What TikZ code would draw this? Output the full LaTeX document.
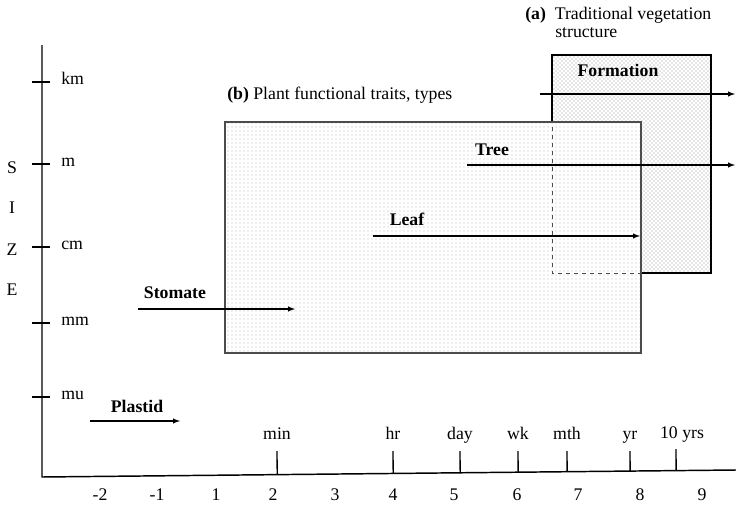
\documentclass[tikz,border=0pt]{standalone}
\usepackage{fontspec}
\setmainfont{Liberation Serif}
\usetikzlibrary{patterns,calc}
\tikzset{>=latex}
\tikzset{
  axis/.style={line width=1.1pt},
  tick/.style={line width=1pt},
  lbl/.style={font=\fontsize{13.3}{13.5}\selectfont, inner sep=0pt},
  blbl/.style={font=\fontsize{13.3}{13.5}\selectfont\bfseries, inner sep=0pt},
  flow/.style={->, line width=0.8pt},
}

\begin{document}
\begin{tikzpicture}[x=0.75pt,y=-0.75pt]
  \useasboundingbox (0,0) rectangle (736,507);

  % Corners
  \coordinate (a-nw) at (552,55);
  \coordinate (a-se) at (711,273);
  \coordinate (b-nw) at (225,122);
  \coordinate (b-se) at (641,353);

  % Boxes
  \draw[line width=0.9pt, pattern=crosshatch dots, pattern color=gray!85] (a-nw) rectangle (a-se);
  \fill[white] (b-nw) rectangle (b-se);
  \draw[line width=0.9pt, draw=gray!60!black, pattern=dots, pattern color=gray!55] (b-nw) rectangle (b-se);
  \begin{scope}
    \clip (b-nw) rectangle (b-se);
    \draw[dashed, draw=gray!60!black, line width=0.6pt] (a-nw) rectangle (a-se);
  \end{scope}

  % Box titles
  \node[lbl, anchor=base west] (atitle) at (525,19) {\textbf{(a)}\ \ Traditional vegetation};
  \node[lbl, anchor=base west] (atitle2) at (555,37) {structure};
  \node[lbl, anchor=base west] (btitle) at (227,99) {\textbf{(b)} Plant functional traits, types};

  % Axes
  \coordinate (origin) at (42,477);
  \coordinate (ytop)   at (42,45);
  \coordinate (xend)   at (736,470);
  \draw[axis] (ytop) -- (origin) -- (xend);

  % Size ticks
  \foreach \y/\name/\txt in {82/km/km, 164/m/m, 247/cm/cm, 323/mm/mm, 397/mu/mu} {
    \draw[tick] (32,\y) -- (50,\y);
    \node[lbl, anchor=base west] (size-\name) at (61,\y+2) {\txt};
  }
  \node[lbl, anchor=base] (s) at (12,173) {S};
  \node[lbl, anchor=base] (i) at (12,213) {I};
  \node[lbl, anchor=base] (z) at (12,255) {Z};
  \node[lbl, anchor=base] (e) at (12,295) {E};

  % Time ticks
  \foreach \x/\name/\txt in {277/min/min, 393/hr/hr, 460/day/day, 518/wk/wk, 567/mth/mth, 630/yr/yr} {
    \coordinate (t-\name) at (\x,451);
    \draw[tick] (t-\name) -- ($(origin)!(t-\name)!(xend)$);
    \node[lbl, anchor=base] (time-\name) at (\x,439) {\txt};
  }
  \coordinate (t-dec) at (676,449);
  \draw[tick] (t-dec) -- ($(origin)!(t-dec)!(xend)$);
  \node[lbl, anchor=base] (time-dec) at (682,438) {10 yrs};

  % Log numbers
  \foreach \x/\txt in {100/-2, 157/-1, 216/1, 273/2, 335/3, 393/4, 454/5, 517/6, 578/7, 640/8, 702/9} {
    \node[lbl, anchor=base] (num\txt) at (\x,500) {\txt};
  }

  % Levels
  \node[blbl, anchor=base] (formation) at (618,76) {Formation};
  \coordinate (formation-s) at (540,94);
  \coordinate (formation-e) at (735,94);
  \draw[flow] (formation-s) -- (formation-e);

  \node[blbl, anchor=base] (tree) at (492,155) {Tree};
  \coordinate (tree-s) at (467,165);
  \coordinate (tree-e) at (735,165);
  \draw[flow] (tree-s) -- (tree-e);

  \node[blbl, anchor=base] (leaf) at (407,225) {Leaf};
  \coordinate (leaf-s) at (373,236);
  \coordinate (leaf-e) at (640,236);
  \draw[flow] (leaf-s) -- (leaf-e);

  \node[blbl, anchor=base] (stomate) at (175,298) {Stomate};
  \coordinate (stomate-s) at (138,309);
  \coordinate (stomate-e) at (295,309);
  \draw[flow] (stomate-s) -- (stomate-e);

  \node[blbl, anchor=base] (plastid) at (137,412) {Plastid};
  \coordinate (plastid-s) at (90,421);
  \coordinate (plastid-e) at (180,421);
  \draw[flow] (plastid-s) -- (plastid-e);
\end{tikzpicture}
\end{document}
